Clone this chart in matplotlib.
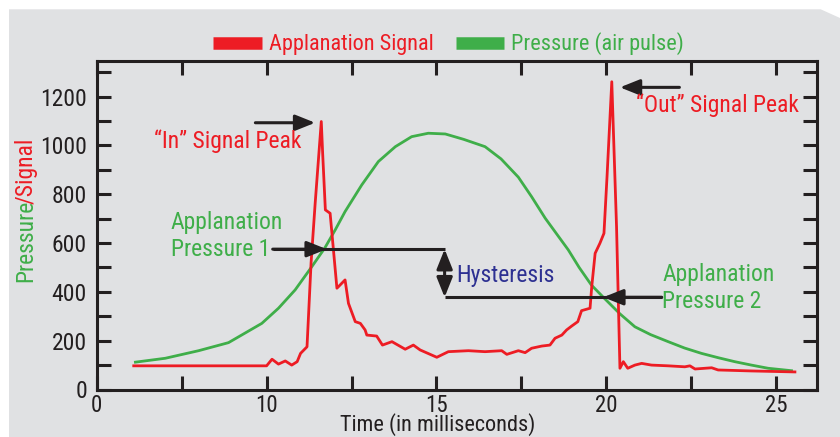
import numpy as np
import matplotlib
matplotlib.use("Agg")
import matplotlib.pyplot as plt
from matplotlib.patches import Polygon
from matplotlib.lines import Line2D

plt.rcParams["font.family"] = ["Roboto Condensed", "DejaVu Sans"]

RED = "#ed1c24"
GREEN = "#3fae49"
NAVY = "#2e3192"
INK = "#231f20"
PANEL = "#e0e1e3"

# time axis in its own units (ticks every 2.5, first tick labelled "0")
x_ticks = [5, 7.5, 10, 12.5, 15, 17.5, 20, 22.5, 25]
x_tick_labels = ["0", "", "10", "", "15", "", "20", "", "25"]
y_ticks = list(range(0, 1301, 100))
y_tick_labels = [str(v) if v % 200 == 0 else "" for v in y_ticks]

# pressure (air pulse)
pressure_t = [6.14, 7.02, 8.0, 8.88, 9.86, 10.35, 10.84, 11.33, 11.71, 12.02, 12.31,
              12.8, 13.29, 13.79, 14.27, 14.76, 15.26, 15.8, 16.43, 16.9, 17.41,
              17.8, 18.2, 18.55, 18.88, 19.2, 19.56, 19.91, 20.4, 20.84, 21.3,
              21.82, 22.3, 22.8, 23.3, 23.78, 24.27, 24.76, 25.45]
pressure_v = [112, 128, 159, 192, 271, 333, 408, 503, 579, 654, 729,
              838, 934, 995, 1036, 1050, 1047, 1025, 995, 945, 870,
              790, 702, 635, 572, 500, 428, 378, 310, 257, 225,
              196, 170, 148, 130, 114, 100, 87, 77]

# applanation signal
signal_t = [6.09, 10.0, 10.16, 10.35, 10.55, 10.74, 10.9, 11.0, 11.19, 11.31, 11.43,
            11.61, 11.65, 11.73, 11.87, 12.07, 12.31, 12.41, 12.61, 12.76, 12.9,
            12.95, 13.24, 13.41, 13.69, 14.08, 14.32, 14.52, 15.01, 15.35, 15.94,
            16.43, 16.92, 17.07, 17.41, 17.61, 17.8, 18.1, 18.34, 18.49, 18.69,
            18.83, 18.98, 19.16, 19.27, 19.52, 19.57, 19.67, 19.81, 19.93, 20.02,
            20.16, 20.3, 20.4, 20.5, 20.63, 20.84, 21.04, 21.33, 21.82, 22.31,
            22.46, 22.61, 23.1, 23.29, 24.27, 25.55]
signal_v = [97, 97, 124, 104, 117, 100, 114, 148, 175, 520, 763,
            1098, 969, 736, 722, 415, 449, 353, 278, 271, 244,
            223, 219, 182, 196, 165, 182, 162, 132, 155, 159,
            155, 159, 144, 159, 151, 169, 178, 182, 210, 223,
            244, 260, 278, 323, 333, 421, 558, 599, 640, 872,
            1261, 667, 87, 114, 87, 100, 107, 100, 97, 93,
            97, 84, 89, 80, 76, 72]

# annotation anchors
in_peak = (11.43, 1093)
out_peak = (20.4, 1238)
ap1_level = 575
ap2_level = 378
ap1_cross = 11.77
ap2_cross = 19.91
hyst_x = 15.24

fig = plt.figure(figsize=(8.4, 4.37), dpi=100, facecolor="white")
fig.add_artist(Polygon([(9 / 840, 0), (9 / 840, 1 - 9.3 / 437), (820.7 / 840, 1 - 9.3 / 437),
                        (1, 1 - 18 / 437), (1, 0)], closed=True, transform=fig.transFigure,
                       facecolor=PANEL, edgecolor="none", zorder=-10))

ax = fig.add_axes([96.7 / 840, 1 - 389.5 / 437, (817 - 96.7) / 840, (389.5 - 61) / 437])
ax.set_facecolor(PANEL)

ax.plot(pressure_t, pressure_v, color=GREEN, lw=2.0, zorder=3)
ax.plot(signal_t, signal_v, color=RED, lw=2.0, zorder=4)

ax.set_xlim(5, 26.2)
ax.set_ylim(0, 1346)
ax.set_xticks(x_ticks)
ax.set_xticklabels(x_tick_labels)
ax.set_yticks(y_ticks)
ax.set_yticklabels(y_tick_labels)
ax.tick_params(direction="in", length=10, width=2.2, top=True, right=True,
               labelsize=17, colors=INK)
ax.tick_params(axis="x", labelsize=16.5, pad=3)
ax.tick_params(axis="y", pad=7)
for s in ax.spines.values():
    s.set_linewidth(2.2)
    s.set_color(INK)

ax.set_xlabel("Time (in milliseconds)", fontsize=16, color=INK, va="baseline")
ax.xaxis.set_label_coords(0.4738, -0.1248)

# two-coloured y label
t1 = fig.text(0.031, 1 - 281.7 / 437, "Pressure", rotation=90, va="bottom", ha="center",
              fontsize=17, color=GREEN)
ax.annotate("/Signal", xy=(0.5, 1), xycoords=t1, xytext=(0, -3), textcoords="offset points",
            rotation=90, va="bottom", ha="center", fontsize=17, color=RED,
            annotation_clip=False)

arrow_style = "-|>,head_length=0.6,head_width=0.24"
akw = dict(arrowstyle=arrow_style, color=INK, lw=2.2, mutation_scale=20, shrinkA=0, shrinkB=0)

# peak arrows
ax.annotate("", xy=in_peak, xytext=(9.67, in_peak[1]), arrowprops=akw)
ax.text(11.03, 991, "\u201cIn\u201d Signal Peak", color=RED, fontsize=17, ha="right", va="baseline")
ax.annotate("", xy=out_peak, xytext=(22.15, out_peak[1]), arrowprops=akw)
ax.text(20.86, 1136, "\u201cOut\u201d Signal Peak", color=RED, fontsize=17, ha="left", va="baseline")

# applanation pressure levels
ax.plot([10.18, hyst_x], [ap1_level, ap1_level], color=INK, lw=2.2, solid_capstyle="butt", zorder=5)
ax.annotate("", xy=(ap1_cross, ap1_level), xytext=(10.18, ap1_level), arrowprops=akw, zorder=6)
ax.plot([hyst_x, 21.63], [ap2_level, ap2_level], color=INK, lw=2.2, solid_capstyle="butt", zorder=5)
ax.annotate("", xy=(ap2_cross, ap2_level), xytext=(21.63, ap2_level), arrowprops=akw, zorder=6)
ax.annotate("", xy=(hyst_x, ap1_level), xytext=(hyst_x, ap2_level),
            arrowprops=dict(akw, arrowstyle="<|-|>,head_length=0.6,head_width=0.24"), zorder=6)

ax.text(7.18, 547, "Applanation\nPressure 1", color=GREEN, fontsize=17, ha="left",
        va="baseline", linespacing=1.25)
ax.text(21.65, 333, "Applanation\nPressure 2", color=GREEN, fontsize=17, ha="left",
        va="baseline", linespacing=1.25)
ax.text(15.59, 442, "Hysteresis", color=NAVY, fontsize=17, ha="left", va="baseline")

handles = [Line2D([], [], color=RED, lw=9, solid_capstyle="butt"),
           Line2D([], [], color=GREEN, lw=9, solid_capstyle="butt")]
leg = fig.legend(handles, ["Applanation Signal", "Pressure (air pulse)"], loc="center",
                 bbox_to_anchor=(448.5 / 840, 1 - 44 / 437), ncol=2, frameon=False,
                 fontsize=16, handlelength=2.2, handletextpad=0.3, columnspacing=1.0)
for txt, c in zip(leg.get_texts(), [RED, GREEN]):
    txt.set_color(c)

fig.savefig("out.png", dpi=100, facecolor="white")
